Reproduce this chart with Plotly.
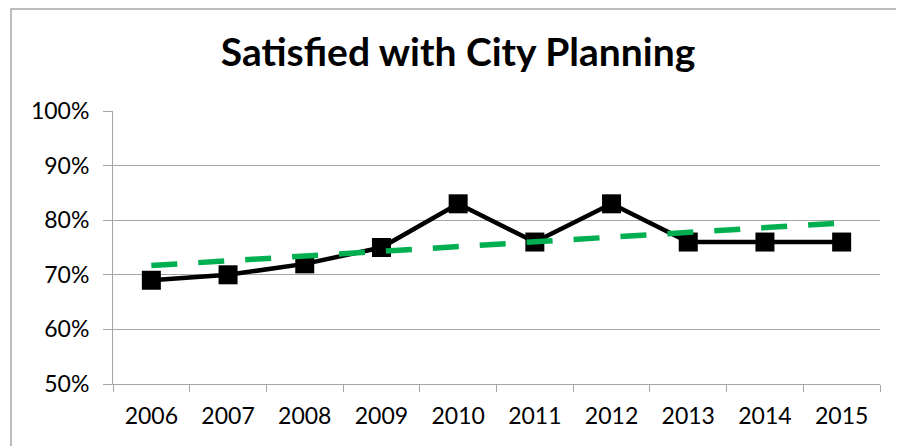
import plotly.graph_objects as go

years = ["2006", "2007", "2008", "2009", "2010", "2011", "2012", "2013", "2014", "2015"]
satisfied = [0.69, 0.70, 0.72, 0.75, 0.83, 0.76, 0.83, 0.76, 0.76, 0.76]
trend_years = ["2006", "2015"]
trend_values = [0.717, 0.795]
y_ticks = [0.5, 0.6, 0.7, 0.8, 0.9, 1.0]
y_labels = ["50%", "60%", "70%", "80%", "90%", "100%"]

FONT = "Lato, Calibri, 'Open Sans', sans-serif"
GRID = "#A6A6A6"

# page body has an 8px margin: figure is drawn 8px right/down
OFF = 8
W, H = 904 - OFF, 446 - OFF
L, R, T, B = 113 - OFF, 904 - 880, 111 - OFF, 446 - 384
pw, ph = W - L - R, H - T - B

fig = go.Figure()
fig.add_trace(go.Scatter(
    x=years, y=satisfied, mode="lines+markers",
    line=dict(color="black", width=4.5),
    marker=dict(symbol="square", size=19, color="black"),
    showlegend=False, hoverinfo="skip",
))
fig.add_trace(go.Scatter(
    x=trend_years, y=trend_values, mode="lines",
    line=dict(color="#00B050", width=5.5, dash="26px,21px"),
    showlegend=False, hoverinfo="skip",
))

fig.update_layout(
    width=W, height=H,
    margin=dict(l=L, r=R, t=T, b=B, autoexpand=False),
    paper_bgcolor="white", plot_bgcolor="white",
    font=dict(family=FONT, color="black"),
    title=dict(text="<b>Satisfied with City Planning</b>",
               font=dict(family=FONT, size=39, color="black"),
               x=(458 - OFF) / W, xanchor="center", xref="container",
               y=1 - (52 - OFF) / H, yanchor="middle"),
    shapes=[dict(type="rect", xref="paper", yref="paper",
                 x0=(11 - 113) / pw, x1=1.2, y0=-0.5, y1=(ph + T - 1) / ph,
                 line=dict(color="#A6A6A6", width=1.5), layer="below")],
)
fig.update_xaxes(
    type="category", categoryorder="array", categoryarray=years,
    tickmode="array", tickvals=years, ticktext=years,
    tickson="boundaries", ticks="outside", ticklen=7, tickcolor=GRID, tickwidth=1,
    showline=True, linecolor=GRID, linewidth=1, showgrid=False,
    tickfont=dict(family=FONT, size=23, color="black"),
    ticklabelstandoff=11, range=[-0.5, 9.5], zeroline=False, mirror=False,
)
fig.update_yaxes(
    range=[0.5, 1.0], tickmode="array", tickvals=y_ticks, ticktext=y_labels,
    ticks="outside", ticklen=9, tickcolor=GRID, tickwidth=1,
    showline=True, linecolor=GRID, linewidth=1,
    showgrid=True, gridcolor=GRID, gridwidth=1, zeroline=False,
    tickfont=dict(family=FONT, size=23, color="black"),
    ticklabelstandoff=9,
)
fig.write_html("out.html")
